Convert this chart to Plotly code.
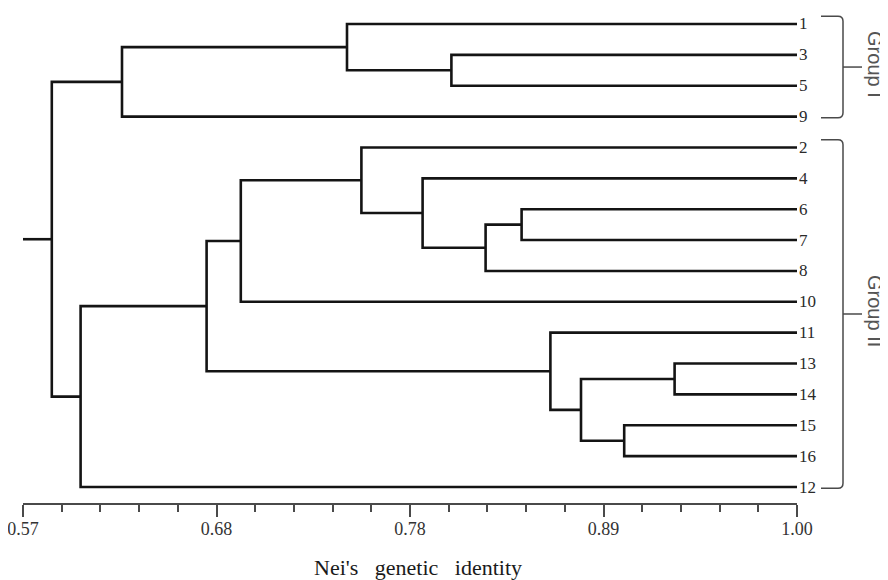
import plotly.graph_objects as go

# ---------------- data ----------------
leaf_labels = ["1", "3", "5", "9", "2", "4", "6", "7", "8", "10",
               "11", "13", "14", "15", "16", "12"]

node_names = ["A", "B", "C", "D", "E", "F", "G", "H", "I", "J", "K", "L", "M", "N", "O"]
node_left = ["3", "1", "B", "6", "D", "4", "2", "G", "13", "15", "I", "11", "H", "M", "C"]
node_right = ["5", "A", "9", "7", "8", "E", "F", "10", "14", "16", "J", "K", "L", "12", "N"]
node_height = [0.808, 0.750, 0.625, 0.847, 0.827, 0.792, 0.758, 0.691,
               0.932, 0.904, 0.880, 0.863, 0.672, 0.602, 0.586]

tick_values = [0.57, 0.6775, 0.785, 0.8925, 1.00]
tick_labels = ["0.57", "0.68", "0.78", "0.89", "1.00"]

group_names = ["Group I", "Group II"]
group_first = ["1", "2"]
group_last = ["9", "12"]

axis_min, axis_max = 0.57, 1.00
axis_title = "Nei's\u00a0\u00a0 genetic\u00a0\u00a0 identity"

# ---------------- layout geometry ----------------
# the page body has an 8px margin, so the figure is drawn 8px in from the corner
OFF = 8
W, H = 880, 572
ML, MR, MT, MB = 15, 91, 0, 77
pad = 0.518
y_top, y_bot = -pad, len(leaf_labels) - 1 + pad

# ---------------- tree coordinates ----------------
pos_x, pos_y = {}, {}
for i, lab in enumerate(leaf_labels):
    pos_x[lab] = axis_max
    pos_y[lab] = i
for name, l, r, h in zip(node_names, node_left, node_right, node_height):
    pos_x[name] = h
    pos_y[name] = (pos_y[l] + pos_y[r]) / 2

xs, ys = [], []
for name, l, r, h in zip(node_names, node_left, node_right, node_height):
    xs += [pos_x[l], h, h, pos_x[r], None]
    ys += [pos_y[l], pos_y[l], pos_y[r], pos_y[r], None]
root = node_names[-1]
xs += [axis_min, pos_x[root], None]
ys += [pos_y[root], pos_y[root], None]

fig = go.Figure()
fig.add_trace(go.Scatter(x=xs, y=ys, mode="lines",
                         line=dict(color="#141414", width=2.6),
                         hoverinfo="skip", showlegend=False, cliponaxis=False))

serif = "Liberation Serif, Times New Roman, serif"
sans = "Liberation Sans, Arial, sans-serif"

# leaf labels
annotations = []
for i, lab in enumerate(leaf_labels):
    annotations.append(dict(x=axis_max, y=i, xref="x", yref="y", text=lab,
                            showarrow=False, xanchor="left", yanchor="middle",
                            xshift=0, font=dict(family=serif, size=17, color="#2a2a2a")))

# axis title
annotations.append(dict(x=(axis_min + axis_max) / 2, y=0, xref="x", yref="paper",
                        text=axis_title, showarrow=False, xanchor="center",
                        yanchor="middle", xshift=8, yshift=-64,
                        font=dict(family=serif, size=22, color="#1a1a1a")))


def px_x(px):
    return (px - OFF - ML) / (W - ML - MR)


def paper_y(idx):
    return (y_bot - idx) / (y_bot - y_top)


shapes = []
x_in, x_v, x_tip = px_x(821), px_x(843), px_x(862)
for name, a, b in zip(group_names, group_first, group_last):
    ya = paper_y(pos_y[a] - 0.25)
    yb = paper_y(pos_y[b] + 0.04)
    ym = (ya + yb) / 2
    rx = px_x(848) - px_x(843)
    ry = 5 / (H - MT - MB)
    path = (f"M {x_in},{ya} L {x_v - rx},{ya} Q {x_v},{ya} {x_v},{ya - ry} "
            f"L {x_v},{yb + ry} Q {x_v},{yb} {x_v - rx},{yb} L {x_in},{yb}")
    shapes.append(dict(type="path", path=path, xref="paper", yref="paper",
                       line=dict(color="#4a4a4a", width=1.5)))
    shapes.append(dict(type="line", x0=x_v, x1=x_tip, y0=ym, y1=ym,
                       xref="paper", yref="paper",
                       line=dict(color="#4a4a4a", width=1.5)))
    annotations.append(dict(x=px_x(875), y=ym, xref="paper", yref="paper",
                            text=name, showarrow=False, textangle=90,
                            xanchor="center", yanchor="middle", yshift=3,
                            font=dict(family=sans, size=20, color="#555555")))

fig.update_layout(
    width=W, height=H,
    margin=dict(l=ML, r=MR, t=MT, b=MB),
    paper_bgcolor="white", plot_bgcolor="white",
    showlegend=False,
    annotations=annotations,
    shapes=shapes,
    xaxis=dict(range=[axis_min, axis_max], showgrid=False, zeroline=False,
               showline=True, linecolor="#4a4a4a", linewidth=2,
               ticks="outside", ticklen=12, tickwidth=2, tickcolor="#4a4a4a",
               tickmode="array", tickvals=tick_values, ticktext=tick_labels,
               ticklabelstandoff=-4, ticklabeloverflow="allow",
               tickfont=dict(family=serif, size=18, color="#333333"),
               minor=dict(ticks="outside", ticklen=7, tickwidth=2,
                          tickcolor="#4a4a4a", tick0=axis_min,
                          dtick=(axis_max - axis_min) / 20),
               fixedrange=True),
    yaxis=dict(range=[y_bot, y_top], visible=False, showgrid=False,
               zeroline=False, fixedrange=True),
)

fig.write_html("out.html")
